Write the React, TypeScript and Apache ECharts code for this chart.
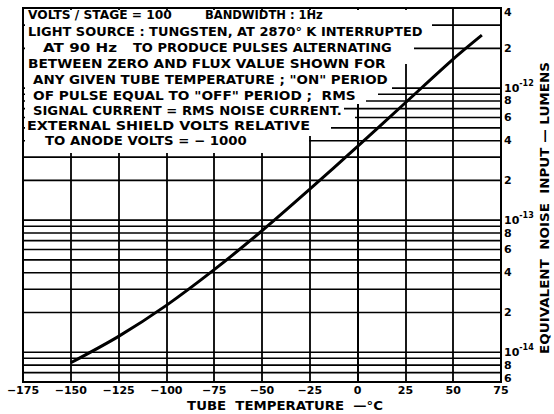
import React, { useEffect, useRef } from "react";
import * as echarts from "echarts";

// ---- data ----
const temps = [-150, -125, -100, -75, -50, -25, 0, 25, 50, 65];
const lumens = [8.32e-15, 1.318e-14, 2.265e-14, 4.22e-14, 8.32e-14, 1.718e-13, 3.63e-13, 7.76e-13, 1.66e-12, 2.52e-12];
const xTicks = { min: -175, max: 75, step: 25 };
const yLabelValues = [6e-15, 8e-15, 1e-14, 2e-14, 4e-14, 6e-14, 8e-14, 1e-13, 2e-13, 4e-13, 6e-13, 8e-13, 1e-12, 2e-12, 4e-12];
const yGridValues = [
  7e-15, 8e-15, 9e-15,
  1e-14, 2e-14, 3e-14, 4e-14, 5e-14, 6e-14, 7e-14, 8e-14, 9e-14,
  1e-13, 2e-13, 3e-13, 4e-13, 5e-13, 6e-13, 7e-13, 8e-13, 9e-13,
  1e-12, 2e-12, 3e-12,
];
const noteTexts = [
  "VOLTS / STAGE = 100",
  "BANDWIDTH : 1Hz",
  "LIGHT SOURCE : TUNGSTEN, AT 2870° K INTERRUPTED",
  "AT 90 Hz",
  "TO PRODUCE PULSES ALTERNATING",
  "BETWEEN ZERO AND FLUX VALUE SHOWN FOR",
  "ANY GIVEN TUBE TEMPERATURE ; \"ON\" PERIOD",
  "OF PULSE EQUAL TO \"OFF\" PERIOD ;  RMS",
  "SIGNAL CURRENT = RMS NOISE CURRENT.",
  "EXTERNAL SHIELD VOLTS RELATIVE",
  "TO ANODE VOLTS = − 1000",
];
const xAxisTitle = "TUBE  TEMPERATURE  —°C";
const yAxisTitle = "EQUIVALENT  NOISE  INPUT — LUMENS";

// ---- layout (pixels) ----
const noteLayout = [
  [28, 15, 144], [205, 15, 118], [28, 32, 395], [43, 48, 74], [133, 48, 259],
  [28, 64, 358], [33, 80, 355], [33, 96, 323], [33, 111, 309], [27, 126, 283], [45, 141, 202],
];
const boxPoints = [
  [25, 10], [432, 10], [432, 38], [414, 38], [414, 64], [392, 64], [392, 90], [378, 90],
  [378, 96], [366, 96], [366, 104], [344, 104], [344, 110], [355, 110], [355, 121],
  [331, 121], [331, 136], [309, 136], [309, 153], [25, 153],
];

const FONT = "'DejaVu Sans', 'Liberation Sans', sans-serif";

function measure(text: string, size: number): number {
  const c = document.createElement("canvas").getContext("2d");
  if (!c) return text.length * size * 0.7;
  c.font = `bold ${size}px ${FONT}`;
  return c.measureText(text).width;
}

function fmtY(v: number): string {
  const lg = Math.log10(v);
  const e = Math.floor(lg + 1e-6);
  const m = Math.round(v / Math.pow(10, e));
  if (m === 1) return `{b|10}{s|-${Math.abs(e)}}`;
  if (e === -15 && m === 6) return `{lo|${m}}`;
  if (e === -12 && m === 4) return `{hi|${m}}`;
  return `{n|${m}}`;
}

export default function App() {
  const ref = useRef<HTMLDivElement>(null);
  useEffect(() => {
    if (!ref.current) return;
    const chart = echarts.init(ref.current, undefined, { renderer: "svg" });
    const noteSize = 12;
    const notes = noteTexts.map((t, i) => {
      const [x, y, w] = noteLayout[i];
      const mw = measure(t, noteSize);
      return {
        type: "text",
        x,
        y,
        scaleX: w / mw,
        z: 60,
        style: {
          text: t,
          font: `bold ${noteSize}px ${FONT}`,
          fill: "#000",
          align: "left",
          verticalAlign: "middle",
        },
      };
    });
    const xtW = measure(xAxisTitle, 12);
    const ytW = measure(yAxisTitle, 12);
    const base = { fontFamily: FONT, fontWeight: "bold", fontSize: 11, color: "#000" };
    const gridSeries = yGridValues.map((v) => ({
      type: "line",
      silent: true,
      z: 1,
      symbol: "none",
      data: [[xTicks.min, v], [xTicks.max, v]],
      lineStyle: { color: "#000", width: 1.7 },
    }));
    chart.setOption({
      animation: false,
      backgroundColor: "#fff",
      grid: {
        left: 23,
        right: 53,
        top: 8,
        bottom: 32,
        show: true,
        borderColor: "#000",
        borderWidth: 2,
      },
      xAxis: {
        type: "value",
        min: xTicks.min,
        max: xTicks.max,
        interval: xTicks.step,
        axisLine: { show: true, lineStyle: { color: "#000", width: 2 } },
        axisTick: { show: false },
        splitLine: { show: true, lineStyle: { color: "#000", width: 1.8 } },
        axisLabel: {
          margin: 3,
          color: "#000",
          fontFamily: FONT,
          fontWeight: "bold",
          fontSize: 11,
          formatter: (v: number) => (v < 0 ? "−" + Math.abs(v) : String(v)),
        },
      },
      yAxis: {
        type: "log",
        position: "right",
        min: 5.95e-15,
        max: 4.05e-12,
        axisLine: { show: true, lineStyle: { color: "#000", width: 2 } },
        axisTick: { show: false },
        splitLine: { show: false },
        axisLabel: {
          customValues: yLabelValues,
          margin: 3,
          color: "#000",
          formatter: (v: number) => fmtY(v),
          rich: {
            n: { ...base },
            lo: { ...base, padding: [0, 0, 7, 0] },
            hi: { ...base, padding: [8, 0, 0, 0] },
            b: { ...base, fontSize: 11, verticalAlign: "bottom", lineHeight: 12 },
            s: { ...base, fontSize: 8, verticalAlign: "bottom", lineHeight: 9, padding: [0, 0, 7, 0] },
          },
        },
      },
      series: [
        ...gridSeries,
        {
          type: "line",
          z: 3,
          data: temps.map((t, i) => [t, lumens[i]]),
          smooth: 0.3,
          showSymbol: false,
          symbol: "none",
          lineStyle: { color: "#000", width: 3 },
        },
      ],
      graphic: [
        {
          type: "polygon",
          z: 50,
          shape: { points: boxPoints },
          style: { fill: "#fff", stroke: null },
        },
        ...notes,
        {
          type: "text",
          x: 285,
          y: 406,
          scaleX: 196 / xtW,
          z: 60,
          style: {
            text: xAxisTitle,
            font: `bold 12px ${FONT}`,
            fill: "#000",
            align: "center",
            verticalAlign: "middle",
          },
        },
        {
          type: "text",
          x: 545,
          y: 208,
          rotation: Math.PI / 2,
          scaleX: 292 / ytW,
          z: 60,
          style: {
            text: yAxisTitle,
            font: `bold 12px ${FONT}`,
            fill: "#000",
            align: "center",
            verticalAlign: "middle",
          },
        },
      ],
    });
    return () => chart.dispose();
  }, []);
  return (
    <div
      ref={ref}
      style={{ position: "absolute", left: 0, top: 0, width: 554, height: 414 }}
    />
  );
}
